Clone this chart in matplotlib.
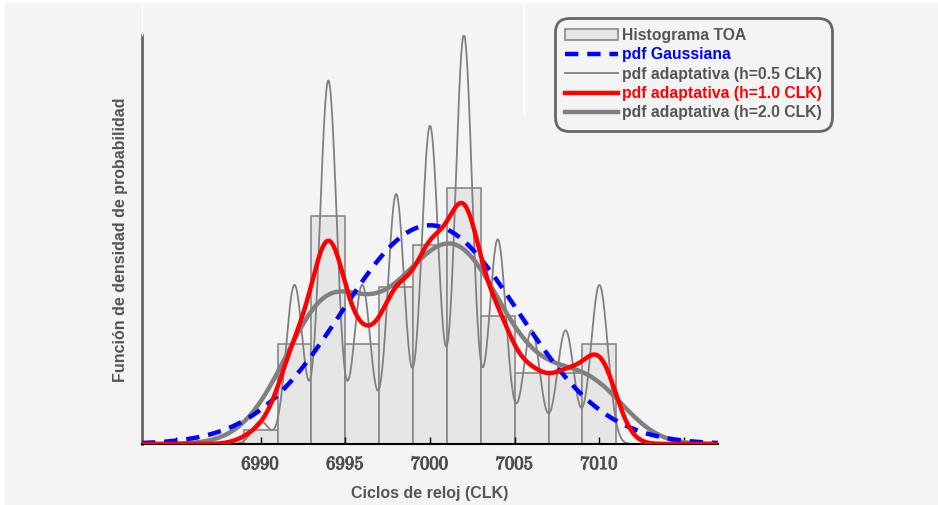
import numpy as np
import matplotlib
matplotlib.use('Agg')
import matplotlib.pyplot as plt
import matplotlib.patheffects as pe
from matplotlib.patches import Rectangle

# datos: ciclos de reloj (CLK) y numero de muestras en cada uno
ciclos = [6990, 6992, 6994, 6996, 6998, 7000, 7002, 7004, 7006, 7008, 7010]
cuentas = [1, 7, 16, 7, 11, 14, 18, 9, 5, 5, 7]
anchos_h = [0.5, 1.0, 2.0]
ticks_x = [6985, 6990, 6995, 7000, 7005, 7010, 7015]
ticks_lbl = ['', '6990', '6995', '7000', '7005', '7010', '']

plt.rcParams['font.family'] = ['Liberation Sans', 'DejaVu Sans']
plt.rcParams['mathtext.fontset'] = 'cm'

muestras = np.repeat(ciclos, cuentas).astype(float)
n = len(muestras)
x = np.linspace(6983, 7017, 2000)


def kde(h):
    z = (x[:, None] - muestras[None, :]) / h
    return np.exp(-0.5 * z ** 2).sum(axis=1) / (n * h * np.sqrt(2 * np.pi))


mu = muestras.mean()
sd = muestras.std()
gauss = np.exp(-0.5 * ((x - mu) / sd) ** 2) / (sd * np.sqrt(2 * np.pi))
pdfs = [kde(h) for h in anchos_h]

fig = plt.figure(figsize=(9.38, 5.05), dpi=100, facecolor='white')
fig.patches.append(Rectangle((5 / 938, 0), 1, 1 - 3 / 505, transform=fig.transFigure,
                             facecolor='#f4f4f4', edgecolor='none', zorder=-10))
# lineas blancas sueltas del original
fig.add_artist(plt.Line2D([142 / 938, 142 / 938], [1 - 35 / 505, 1 - 3 / 505], color='white', lw=1))
fig.add_artist(plt.Line2D([524 / 938, 524 / 938], [1 - 115 / 505, 1 - 3 / 505], color='white', lw=1))

ax = fig.add_axes([142 / 938, 1 - 444 / 505, 576 / 938, 409 / 505])
ax.set_facecolor('none')

bordes = np.arange(6989, 7012, 2)
ax.hist(muestras, bins=bordes, density=True, facecolor='#e6e6e6', edgecolor='#888888',
        linewidth=1.2, label='Histograma TOA', zorder=1)
ax.plot(x, pdfs[0], color='#808080', lw=1.3, label='pdf adaptativa (h=0.5 CLK)', zorder=2)
ax.plot(x, pdfs[2], color='#808080', lw=3.2, label='pdf adaptativa (h=2.0 CLK)', zorder=3)
ax.plot(x, gauss, color='#0000ff', lw=3.2, ls=(0, (3, 2)), label='pdf Gaussiana', zorder=4)
ax.plot(x, pdfs[1], color='#ff0000', lw=3.2, label='pdf adaptativa (h=1.0 CLK)', zorder=5)

ax.set_xlim(6983, 7017)
ax.set_ylim(0, pdfs[0].max())
ax.set_xticks(ticks_x)
ax.set_xticklabels([r'$\mathbf{%s}$' % t if t else '' for t in ticks_lbl],
                   fontsize=13.5, color='#4d4d4d')
for t in ax.get_xticklabels():
    t.set_path_effects([pe.withStroke(linewidth=0.7, foreground='#4d4d4d')])
ax.set_yticks([])
ax.tick_params(axis='x', direction='in', length=5, width=1, color='black', pad=8)
for s in ['top', 'right']:
    ax.spines[s].set_visible(False)
ax.spines['left'].set_color('#666666')
ax.spines['left'].set_linewidth(2)
ax.spines['bottom'].set_color('black')
ax.spines['bottom'].set_linewidth(1.5)

ax.set_xlabel('Ciclos de reloj (CLK)', fontsize=11.5, fontweight='bold', color='#555555', labelpad=9)
ax.set_ylabel('Función de densidad de probabilidad', fontsize=11.5, fontweight='bold',
              color='#555555', labelpad=10)

h, l = ax.get_legend_handles_labels()
orden = [0, 3, 1, 4, 2]
leg = ax.legend([h[i] for i in orden], [l[i] for i in orden],
                loc='upper right', bbox_to_anchor=(837 / 938, 1 - 13 / 505),
                bbox_transform=fig.transFigure, handlelength=3.4,
                handletextpad=0.25, labelspacing=0.28, borderpad=0.45, fancybox=True,
                facecolor='#f4f4f4', edgecolor='#666666', framealpha=1,
                labelcolor=['#555555', '#0000ff', '#555555', '#ff0000', '#555555'],
                prop={'weight': 'bold', 'size': 11.3})
leg.get_frame().set_linewidth(2)
leg.get_frame().set_boxstyle('round,pad=0.2,rounding_size=0.9')

fig.savefig('out.png', dpi=100, facecolor=fig.get_facecolor())
